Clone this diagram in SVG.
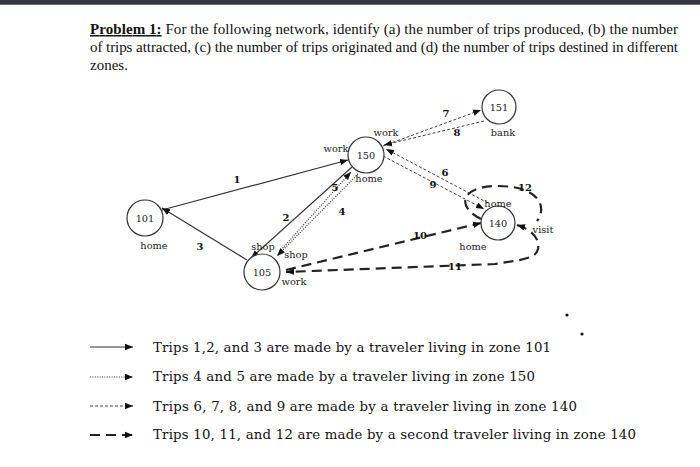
<svg xmlns="http://www.w3.org/2000/svg" width="700" height="467" viewBox="0 0 700 467">
<defs>
<style>
.hdr{font-family:"Liberation Serif","Times New Roman",serif;font-size:15px;fill:#111}
.leg{font-family:"DejaVu Serif","Liberation Serif",serif;font-size:13.3px;fill:#111}
.nl{font-family:"DejaVu Serif","Liberation Serif",serif;font-size:9.8px;fill:#222;text-anchor:middle}
.num{font-family:"DejaVu Serif","Liberation Serif",serif;font-size:10px;font-weight:bold;fill:#111;text-anchor:middle}
.node circle{fill:#fff;stroke:#333;stroke-width:1.2}
.solid{fill:none;stroke:#333;stroke-width:1.2;marker-end:url(#ah)}
.dot{fill:none;stroke:#333;stroke-width:1.2;stroke-dasharray:1 1.4;marker-end:url(#ah)}
.dash{fill:none;stroke:#444;stroke-width:1;stroke-dasharray:3 2;marker-end:url(#ah)}
.bold{fill:none;stroke:#222;stroke-width:2.2;stroke-dasharray:10 6}
</style>
<marker id="ah" markerUnits="userSpaceOnUse" markerWidth="9" markerHeight="8" refX="8" refY="4" orient="auto-start-reverse">
<path d="M0,0.8 L8,4 L0,7.2 Z" fill="#111"/>
</marker>
</defs>
<rect x="0" y="0" width="700" height="4" fill="#35363f"/>
<rect x="0" y="4" width="700" height="1" fill="#6a6b78"/>

<text class="hdr" x="90" y="34" textLength="588"><tspan font-weight="bold" text-decoration="underline">Problem 1:</tspan> For the following network, identify (a) the number of trips produced, (b) the number</text>
<text class="hdr" x="90" y="52" textLength="588">of trips attracted, (c) the number of trips originated and (d) the number of trips destined in different</text>
<text class="hdr" x="90" y="70">zones.</text>

<g id="connectors">
<line class="solid" x1="162" y1="210" x2="348" y2="160"/>
<line class="solid" x1="352" y1="167" x2="251" y2="258"/>
<line class="solid" x1="247" y1="260" x2="162" y2="208"/>
<line class="dot" x1="281" y1="250" x2="351" y2="172"/>
<line class="dot" x1="358" y1="174" x2="277" y2="256"/>
<line class="dash" x1="383" y1="146" x2="481" y2="110"/>
<line class="dash" x1="484" y1="121" x2="384" y2="145"/>
<line class="dash" x1="488" y1="203" x2="386" y2="149"/>
<line class="dash" x1="383" y1="156" x2="484" y2="209"/>
<path class="bold" d="M286,270 L481,223" marker-end="url(#ah)"/>
<path class="bold" d="M481,219 C456,207 460,186 498,186 C538,186 548,206 537,221"/>
<path class="bold" d="M517,225 C530,229 540,237 538,249 C536,259 520,260 495,264 L286,272" marker-start="url(#ah)" marker-end="url(#ah)"/>
</g>

<g id="n101" class="node"><circle cx="145" cy="218" r="18"/><text class="nl" x="145" y="222">101</text></g>
<g id="n105" class="node"><circle cx="262" cy="272" r="18"/><text class="nl" x="262" y="276">105</text></g>
<g id="n150" class="node"><circle cx="366" cy="155" r="18"/><text class="nl" x="366" y="159">150</text></g>
<g id="n151" class="node"><circle cx="499" cy="107" r="17"/><text class="nl" x="499" y="111">151</text></g>
<g id="n140" class="node"><circle cx="498" cy="223" r="17"/><text class="nl" x="498" y="227">140</text></g>

<g id="labels">
<text class="nl" x="154" y="249">home</text>
<text class="nl" x="263" y="250">shop</text>
<text class="nl" x="296" y="258">shop</text>
<text class="nl" x="294" y="285">work</text>
<text class="nl" x="336" y="152">work</text>
<text class="nl" x="369" y="182">home</text>
<text class="nl" x="386" y="136">work</text>
<text class="nl" x="503" y="136">bank</text>
<text class="nl" x="498" y="207">home</text>
<text class="nl" x="543" y="233">visit</text>
<text class="nl" x="473" y="250">home</text>
<text class="num" x="200" y="250">3</text>
<text class="num" x="237" y="183">1</text>
<text class="num" x="286" y="221">2</text>
<text class="num" x="335" y="191">5</text>
<text class="num" x="342" y="215">4</text>
<text class="num" x="446" y="117">7</text>
<text class="num" x="457" y="136">8</text>
<text class="num" x="445" y="176">6</text>
<text class="num" x="433" y="188">9</text>
<text class="num" x="525" y="191">12</text>
<text class="num" x="420" y="239">10</text>
<text class="num" x="455" y="270">11</text>
</g>

<circle cx="567" cy="315" r="1.6" fill="#111"/>
<circle cx="582" cy="334" r="1.6" fill="#111"/>

<g id="legend">
<line class="solid" x1="90" y1="347" x2="133" y2="347"/>
<line class="dot" x1="90" y1="377" x2="133" y2="377"/>
<line class="dash" x1="90" y1="406" x2="133" y2="406"/>
<path class="bold" d="M90,435 L133,435" stroke-dasharray="13 7" marker-end="url(#ah)"/>
<text class="leg" x="153" y="352" textLength="398">Trips 1,2, and 3 are made by a traveler living in zone 101</text>
<text class="leg" x="153" y="381" textLength="382">Trips 4 and 5 are made by a traveler living in zone 150</text>
<text class="leg" x="153" y="411" textLength="424">Trips 6, 7, 8, and 9 are made by a traveler living in zone 140</text>
<text class="leg" x="153" y="439" textLength="483">Trips 10, 11, and 12 are made by a second traveler living in zone 140</text>
</g>
</svg>
